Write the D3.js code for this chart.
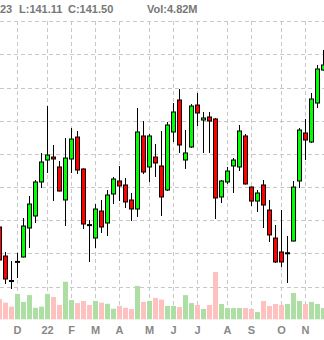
<!DOCTYPE html>
<meta charset="utf-8">
<style>
body { margin: 0; background: #fff; }
svg { display: block; }
.grid line { stroke: #c8c8c8; stroke-width: 1px; stroke-dasharray: 4,3; shape-rendering: crispEdges; }
.hdr, .month { font-family: "Liberation Sans", Arial, sans-serif; font-weight: bold; font-size: 11px; }
.hdr { fill: #777; }
.month { fill: #888; }
</style>
<body>
<svg id="chart"></svg>
<script src="https://d3js.org/d3.v7.min.js"></script>
<script>

var width = 324,
    height = 340;

// weekly bars, week ending friday, 12 Nov 2021 .. 25 Nov 2022
var weeks = d3.timeFriday.range(new Date(2021, 10, 12), new Date(2022, 10, 26));

var open  = [118.99,114.62,110.93,113.69,114.47,118.84,120.65,125.77,129.08,129.53,128.03,123.06,129.23,132.54,127.73,119.35,117.33,121.40,119.59,123.96,125.92,125.32,123.06,121.70,132.70,128.03,129.53,128.18,124.56,133.30,138.12,129.08,131.04,137.36,135.10,135.56,135.26,123.51,125.77,128.18,128.03,132.70,125.01,122.90,125.32,121.55,117.33,115.23,115.00,116.88,125.92,133.15,131.79,137.66,142.63];
var high  = [119.44,115.23,113.87,115.08,120.34,123.66,126.07,130.14,137.20,131.34,128.93,132.39,133.90,133.45,127.80,120.04,122.45,123.06,124.56,126.52,128.18,126.37,124.11,136.92,134.95,133.00,131.49,133.45,134.80,137.66,139.77,133.60,137.51,139.17,136.31,136.31,135.41,126.07,128.03,129.38,134.35,133.00,125.09,124.56,126.07,123.06,119.29,121.55,117.64,125.92,133.90,135.26,139.17,143.39,145.65];
var low   = [113.57,110.41,109.65,111.31,114.40,115.83,119.59,124.86,127.13,122.90,124.34,119.14,127.13,126.98,118.69,113.72,115.83,118.09,117.64,122.45,122.90,121.85,119.89,120.50,126.97,125.77,126.52,120.65,124.41,131.79,130.14,127.73,130.89,134.20,130.14,130.14,120.20,122.60,125.47,124.11,127.42,125.39,122.15,121.25,118.84,116.73,113.57,112.97,110.56,116.81,124.86,129.08,131.64,136.91,142.56];
var close = [114.02,111.16,110.78,113.81,119.14,122.45,125.77,128.78,129.83,129.23,124.41,129.38,132.24,127.57,119.44,119.23,121.70,118.99,123.81,126.22,125.17,122.76,121.70,133.30,127.27,132.70,128.63,123.51,134.35,136.31,131.34,130.14,137.21,136.16,135.41,134.95,123.36,125.92,127.42,129.08,133.45,125.47,122.90,124.11,122.30,117.79,113.72,113.72,115.11,125.01,133.60,132.09,138.27,142.79,143.39];
// millions
var volume = [8.6,7.1,5.4,10.8,7.4,10.3,4.9,5.4,10.8,9.5,6.1,16.0,8.2,6.9,7.8,6.1,7.8,7.1,6.6,4.5,5.7,4.9,4.4,14.2,7.4,7.8,9.1,8.4,5.7,5.7,5.2,10.3,6.9,6.1,4.4,6.1,20.1,6.5,4.8,4.8,4.8,4.8,4.4,3.1,7.8,5.7,6.5,6.1,6.5,11.2,7.8,6.5,7.4,6.5,4.82];

var priceTicks = [110, 115, 120, 125, 130, 135, 140, 145, 150];
var monthTicks = ["D", "22", "F", "M", "A", "M", "J", "J", "A", "S", "O", "N"];

var header = [
  {x: 0,   text: "23"},
  {x: 19,  text: "L:141.11"},
  {x: 68,  text: "C:141.50"},
  {x: 147, text: "Vol:4.82M"}
];

var bars = weeks.map(function(d, i) {
  return {date: d, o: open[i], h: high[i], l: low[i], c: close[i], v: volume[i]};
});

var svg = d3.select("#chart")
    .attr("width", width)
    .attr("height", height);

var x = d3.scaleBand()
    .domain(weeks.map(function(d) { return +d; }))
    .range([-3.5, -3.5 + weeks.length * 6]);

var y = d3.scaleLinear()
    .domain([110, 150])
    .range([286.7, 21.1]);

var yVol = d3.scaleLinear()
    .domain([0, 20])
    .range([319.3, 272.3]);

function cx(d) { return x(+d) + x.bandwidth() / 2; }

// first week of every month gets a grid line
var monthStarts = weeks.filter(function(d, i) {
  return i > 0 && d.getMonth() != weeks[i - 1].getMonth();
});

var grid = svg.append("g").attr("class", "grid");

grid.selectAll(".hline")
    .data(priceTicks)
    .enter().append("line")
    .attr("class", "hline")
    .attr("x1", 0).attr("x2", width)
    .attr("y1", function(d) { return Math.round(y(d)) + 0.5; })
    .attr("y2", function(d) { return Math.round(y(d)) + 0.5; });

grid.selectAll(".vline")
    .data(monthStarts)
    .enter().append("line")
    .attr("class", "vline")
    .attr("x1", function(d) { return cx(d); })
    .attr("x2", function(d) { return cx(d); })
    .attr("y1", y(150))
    .attr("y2", yVol(0));

// volume
svg.append("g")
  .selectAll("rect")
  .data(bars)
  .enter().append("rect")
    .attr("x", function(d) { return cx(d.date) - 2.5; })
    .attr("width", 5)
    .attr("y", function(d) { return yVol(d.v); })
    .attr("height", function(d) { return yVol(0) - yVol(d.v); })
    .attr("fill", function(d) { return d.c >= d.o ? "#addfa5" : "#ffc0c0"; });

// candles
var candle = svg.append("g")
  .selectAll("g")
  .data(bars)
  .enter().append("g");

candle.append("line")
    .attr("x1", function(d) { return cx(d.date); })
    .attr("x2", function(d) { return cx(d.date); })
    .attr("y1", function(d) { return y(d.h); })
    .attr("y2", function(d) { return y(d.l); })
    .attr("stroke", "#000")
    .attr("stroke-width", 1);

candle.append("rect")
    .attr("x", function(d) { return cx(d.date) - 2; })
    .attr("width", 4)
    .attr("y", function(d) { return y(Math.max(d.o, d.c)); })
    .attr("height", function(d) { return Math.max(1, Math.abs(y(d.o) - y(d.c))); })
    .attr("fill", function(d) { return d.c >= d.o ? "#00ff00" : "#ff0000"; })
    .attr("stroke", "#000")
    .attr("stroke-width", 1);

// month labels
svg.append("g")
  .selectAll("text")
  .data(monthStarts)
  .enter().append("text")
    .attr("class", "month")
    .attr("x", function(d) { return cx(d); })
    .attr("y", 334)
    .attr("text-anchor", "middle")
    .text(function(d, i) { return monthTicks[i]; });

svg.append("g")
  .selectAll("text")
  .data(header)
  .enter().append("text")
    .attr("class", "hdr")
    .attr("x", function(d) { return d.x; })
    .attr("y", 12.5)
    .text(function(d) { return d.text; });

</script>
</body>
